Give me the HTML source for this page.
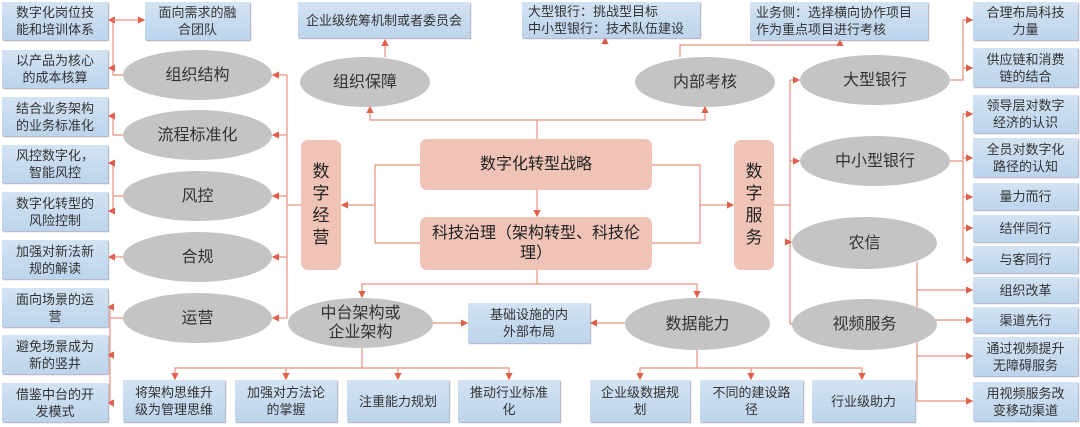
<!DOCTYPE html>
<html><head><meta charset="utf-8"><style>
body{margin:0;width:1080px;height:427px;background:#fff;position:relative;overflow:hidden;font-family:"Liberation Sans","Noto Sans CJK SC",sans-serif;color:#333}
.b{position:absolute;background:linear-gradient(#d3e3f3,#bcd4ec);box-shadow:1px 1px 1px #aab;display:flex;align-items:center;justify-content:center;text-align:center;font-size:13px;line-height:17px}
.e{position:absolute;background:#c4c4c4;border-radius:50%;display:flex;align-items:center;justify-content:center;text-align:center;font-size:16px;line-height:19px;color:#333}
.s{position:absolute;background:#efc4b7;border-radius:7px;display:flex;align-items:center;justify-content:center;text-align:center;font-size:16px;color:#222;line-height:20px}
svg{position:absolute;left:0;top:0}
</style></head><body>
<svg width="1080" height="427"><defs><marker id="a" markerWidth="6" markerHeight="6" refX="5" refY="3" orient="auto"><path d="M0,0L6,3L0,6z" fill="#e0604c"/></marker></defs>
<g stroke="#e8907f" stroke-width="1.2" fill="none">
<path d="M537,139V120H370V107" marker-end="url(#a)"/><path d="M537,120H705V107" marker-end="url(#a)"/>
<path d="M385,57V40" marker-end="url(#a)"/>
<path d="M680,57V45H840V40" marker-end="url(#a)"/><path d="M605,45V38" marker-end="url(#a)"/>
<path d="M537,190V216" marker-end="url(#a)"/>
<path d="M420,165H375V205H342" marker-end="url(#a)"/><path d="M420,243H375V205"/>
<path d="M652,165H700V205H733" marker-end="url(#a)"/><path d="M652,243H700V205"/>
<path d="M537,270V284H362V297" marker-end="url(#a)"/><path d="M537,284H697V297" marker-end="url(#a)"/>
<path d="M301,205H287"/><path d="M287,75V318"/>
<path d="M287,75H273" marker-end="url(#a)"/><path d="M287,135H273" marker-end="url(#a)"/><path d="M287,196H273" marker-end="url(#a)"/><path d="M287,257H273" marker-end="url(#a)"/><path d="M287,318H273" marker-end="url(#a)"/>
<path d="M123,75H113V20H109" marker-end="url(#a)"/><path d="M113,68H109" marker-end="url(#a)"/><path d="M113,20H144" marker-end="url(#a)"/>
<path d="M123,135H113V116H109" marker-end="url(#a)"/>
<path d="M123,196H113V163H109" marker-end="url(#a)"/><path d="M113,196V211H109" marker-end="url(#a)"/>
<path d="M123,257H109" marker-end="url(#a)"/>
<path d="M123,318H110V307H108" marker-end="url(#a)"/><path d="M110,318V403H108" marker-end="url(#a)"/><path d="M110,355H108" marker-end="url(#a)"/>
<path d="M433,323H467" marker-end="url(#a)"/><path d="M625,323H591" marker-end="url(#a)"/>
<path d="M362,348V368H175V379" marker-end="url(#a)"/><path d="M286,368V379" marker-end="url(#a)"/><path d="M398,368V379" marker-end="url(#a)"/><path d="M362,368H509V379" marker-end="url(#a)"/>
<path d="M697,350V368H640V379" marker-end="url(#a)"/><path d="M697,368H862V379" marker-end="url(#a)"/><path d="M751,368V379" marker-end="url(#a)"/>
<path d="M774,205H790"/><path d="M790,80V324"/>
<path d="M790,80H799" marker-end="url(#a)"/><path d="M790,161H799" marker-end="url(#a)"/><path d="M790,242H791" marker-end="url(#a)"/><path d="M790,324H799" marker-end="url(#a)"/>
<path d="M950,80H963V20H972" marker-end="url(#a)"/><path d="M963,68H972" marker-end="url(#a)"/>
<path d="M950,161H963V114H972" marker-end="url(#a)"/><path d="M963,161V260H972" marker-end="url(#a)"/><path d="M963,158H972" marker-end="url(#a)"/><path d="M963,197H972" marker-end="url(#a)"/><path d="M963,228H972" marker-end="url(#a)"/>
<path d="M917,262V401H972" marker-end="url(#a)"/><path d="M917,290H972" marker-end="url(#a)"/><path d="M917,320H972" marker-end="url(#a)"/><path d="M917,356H972" marker-end="url(#a)"/>
</g></svg>
<div class="b" style="left:2px;top:2px;width:106px;height:38px">数字化岗位技<br>能和培训体系</div>
<div class="b" style="left:2px;top:50px;width:106px;height:38px">以产品为核心<br>的成本核算</div>
<div class="b" style="left:2px;top:97px;width:106px;height:39px">结合业务架构<br>的业务标准化</div>
<div class="b" style="left:2px;top:145px;width:106px;height:38px">风控数字化，<br>智能风控</div>
<div class="b" style="left:2px;top:192px;width:106px;height:39px">数字化转型的<br>风险控制</div>
<div class="b" style="left:2px;top:240px;width:106px;height:39px">加强对新法新<br>规的解读</div>
<div class="b" style="left:2px;top:288px;width:106px;height:39px">面向场景的运<br>营</div>
<div class="b" style="left:2px;top:335px;width:106px;height:39px">避免场景成为<br>新的竖井</div>
<div class="b" style="left:2px;top:383px;width:106px;height:39px">借鉴中台的开<br>发模式</div>
<div class="b" style="left:145px;top:2px;width:105px;height:38px">面向需求的融<br>合团队</div>
<div class="b" style="left:298px;top:2px;width:172px;height:36px">企业级统筹机制或者委员会</div>
<div class="b" style="left:522px;top:2px;width:178px;height:36px;justify-content:flex-start;text-align:left;padding-left:6px;box-sizing:border-box">大型银行：挑战型目标<br>中小型银行：技术队伍建设</div>
<div class="b" style="left:750px;top:2px;width:178px;height:38px;justify-content:flex-start;text-align:left;padding-left:6px;box-sizing:border-box">业务侧：选择横向协作项目<br>作为重点项目进行考核</div>
<div class="b" style="left:973px;top:2px;width:105px;height:38px">合理布局科技<br>力量</div>
<div class="b" style="left:973px;top:48px;width:105px;height:39px">供应链和消费<br>链的结合</div>
<div class="b" style="left:973px;top:95px;width:105px;height:38px">领导层对数字<br>经济的认识</div>
<div class="b" style="left:973px;top:138px;width:105px;height:39px">全员对数字化<br>路径的认知</div>
<div class="b" style="left:973px;top:183px;width:105px;height:27px">量力而行</div>
<div class="b" style="left:973px;top:215px;width:105px;height:27px">结伴同行</div>
<div class="b" style="left:973px;top:246px;width:105px;height:27px">与客同行</div>
<div class="b" style="left:973px;top:277px;width:105px;height:26px">组织改革</div>
<div class="b" style="left:973px;top:307px;width:105px;height:26px">渠道先行</div>
<div class="b" style="left:973px;top:337px;width:105px;height:39px">通过视频提升<br>无障碍服务</div>
<div class="b" style="left:973px;top:382px;width:105px;height:39px">用视频服务改<br>变移动渠道</div>
<div class="b" style="left:468px;top:303px;width:122px;height:40px">基础设施的内<br>外部布局</div>
<div class="b" style="left:123px;top:380px;width:102px;height:42px">将架构思维升<br>级为管理思维</div>
<div class="b" style="left:235px;top:380px;width:102px;height:42px">加强对方法论<br>的掌握</div>
<div class="b" style="left:347px;top:380px;width:102px;height:42px">注重能力规划</div>
<div class="b" style="left:458px;top:380px;width:102px;height:42px">推动行业标准<br>化</div>
<div class="b" style="left:590px;top:380px;width:100px;height:42px">企业级数据规<br>划</div>
<div class="b" style="left:700px;top:380px;width:103px;height:42px">不同的建设路<br>径</div>
<div class="b" style="left:812px;top:380px;width:103px;height:42px">行业级助力</div>
<div class="e" style="left:123px;top:50px;width:149px;height:50px">组织结构</div>
<div class="e" style="left:123px;top:110px;width:149px;height:50px">流程标准化</div>
<div class="e" style="left:123px;top:171px;width:149px;height:50px">风控</div>
<div class="e" style="left:123px;top:232px;width:149px;height:50px">合规</div>
<div class="e" style="left:123px;top:293px;width:149px;height:50px">运营</div>
<div class="e" style="left:300px;top:57px;width:130px;height:50px">组织保障</div>
<div class="e" style="left:635px;top:57px;width:140px;height:50px">内部考核</div>
<div class="e" style="left:800px;top:55px;width:150px;height:50px">大型银行</div>
<div class="e" style="left:800px;top:136px;width:150px;height:50px">中小型银行</div>
<div class="e" style="left:792px;top:217px;width:145px;height:52px">农信</div>
<div class="e" style="left:792px;top:299px;width:145px;height:51px">视频服务</div>
<div class="e" style="left:288px;top:298px;width:145px;height:50px">中台架构或<br>企业架构</div>
<div class="e" style="left:625px;top:298px;width:145px;height:52px">数据能力</div>
<div class="s" style="left:301px;top:140px;width:40px;height:130px;font-size:17px;line-height:22px">数<br>字<br>经<br>营</div>
<div class="s" style="left:734px;top:140px;width:40px;height:130px;font-size:17px;line-height:22px">数<br>字<br>服<br>务</div>
<div class="s" style="left:420px;top:139px;width:232px;height:51px">数字化转型战略</div>
<div class="s" style="left:420px;top:217px;width:232px;height:53px">科技治理（架构转型、科技伦<br>理）</div>
</body></html>
